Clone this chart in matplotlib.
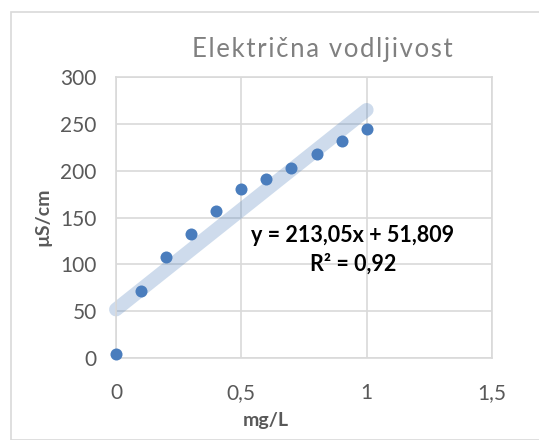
import numpy as np
import matplotlib
matplotlib.use('Agg')
import matplotlib.pyplot as plt
from matplotlib.patches import Rectangle

plt.rcParams['font.family'] = ['Lato', 'DejaVu Sans']

# podaci s grafa
conc = [0.0, 0.1, 0.2, 0.3, 0.4, 0.5, 0.6, 0.7, 0.8, 0.9, 1.0]
conductivity = [4, 72, 107.5, 132.5, 157, 180, 191.5, 203, 218, 232, 244]
trend_slope = 213.05
trend_intercept = 51.809
x_ticks = [0, 0.5, 1, 1.5]
x_labels = ['0', '0,5', '1', '1,5']
y_ticks = [0, 50, 100, 150, 200, 250, 300]
title = 'Električna vodljivost'

grid_col = '#d9d9d9'
text_col = '#595959'
dot_col = '#4a7dbd'

fig = plt.figure(figsize=(5.39, 4.40), dpi=100)
fig.patches.append(Rectangle((11 / 539, 0), 1, 1 - 12 / 440, transform=fig.transFigure,
                             facecolor='white', edgecolor=grid_col, linewidth=1.2,
                             zorder=-10))

ax = fig.add_axes([116 / 539, 1 - 358 / 440, 376 / 539, 281 / 440])
ax.set_facecolor('none')
ax.set_xlim(0, 1.5)
ax.set_ylim(0, 300)
ax.set_xticks(x_ticks)
ax.set_xticklabels(x_labels)
ax.set_yticks(y_ticks)
ax.grid(True, color=grid_col, linewidth=1.2)
ax.set_axisbelow(True)
for sp in ax.spines.values():
    sp.set_color(grid_col)
    sp.set_linewidth(1.2)
ax.tick_params(length=0, labelsize=15, colors=text_col)
ax.tick_params(axis='y', pad=14)
ax.tick_params(axis='x', pad=18)

# trend linija
tx = np.array([conc[0], conc[-1]])
ax.plot(tx, trend_slope * tx + trend_intercept, color='#4f81bd', alpha=0.28,
        linewidth=10, solid_capstyle='round', zorder=2, clip_on=False)
ax.scatter(conc, conductivity, s=75, color=dot_col, zorder=3, clip_on=False,
           linewidths=0)

fig.text(353 / 539, 1 - 235 / 440, 'y = 213,05x + 51,809', fontsize=15.5,
         fontweight='bold', color='black', ha='center', va='center')
fig.text(353 / 539, 1 - 264 / 440, 'R² = 0,92', fontsize=15.5,
         fontweight='bold', color='black', ha='center', va='center')

# naslov s razmakom izmedju slova
fig.text(322 / 539, 1 - 50 / 440, '\u200a'.join(title), fontsize=18.5,
         color='#808080', ha='center', va='center')
fig.text(43 / 539, 1 - 217 / 440, 'µS/cm', fontsize=14, fontweight='bold',
         color=text_col, rotation=90, ha='center', va='center')
fig.text(266 / 539, 1 - 420 / 440, 'mg/L', fontsize=14, fontweight='bold',
         color=text_col, ha='center', va='center')

plt.savefig('out.png', dpi=100)
plt.close()
